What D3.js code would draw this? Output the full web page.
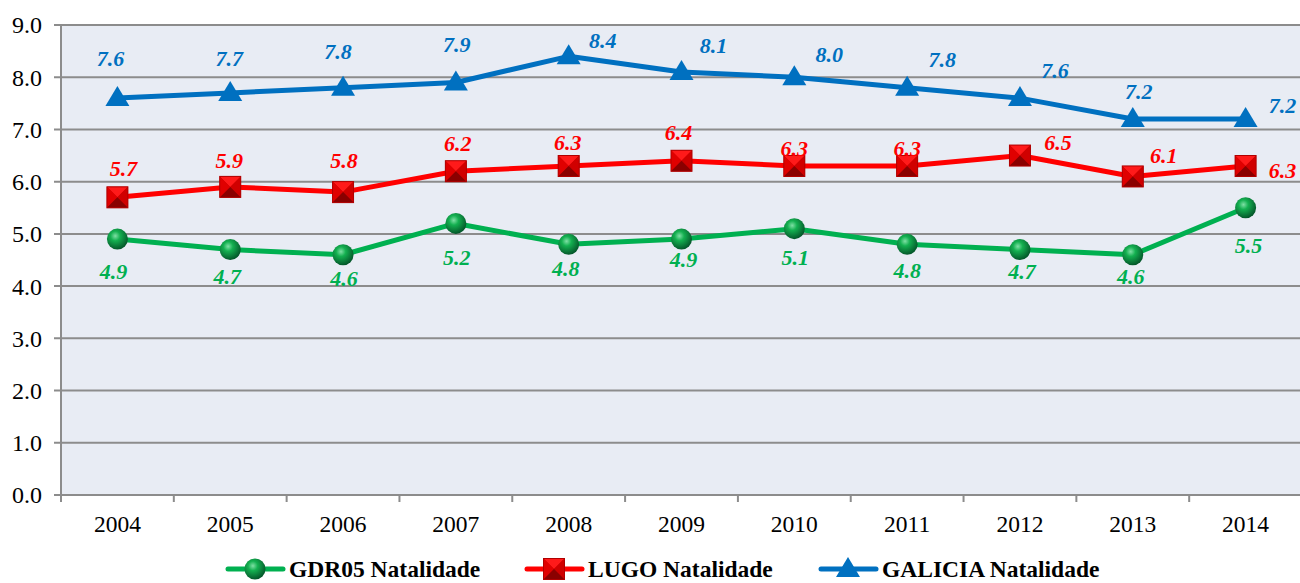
<!DOCTYPE html>
<html>
<head>
<meta charset="utf-8">
<script src="https://cdn.jsdelivr.net/npm/d3@7"></script>
<style>
  body { margin: 0; background: #fff; }
  svg { display: block; }
</style>
</head>
<body>
<svg id="chart" width="1300" height="583"></svg>
<script>
const years = ["2004", "2005", "2006", "2007", "2008", "2009", "2010", "2011", "2012", "2013", "2014"];
const gdr05 = [4.9, 4.7, 4.6, 5.2, 4.8, 4.9, 5.1, 4.8, 4.7, 4.6, 5.5];
const lugo = [5.7, 5.9, 5.8, 6.2, 6.3, 6.4, 6.3, 6.3, 6.5, 6.1, 6.3];
const galicia = [7.6, 7.7, 7.8, 7.9, 8.4, 8.1, 8.0, 7.8, 7.6, 7.2, 7.2];
const yTicks = [0, 1, 2, 3, 4, 5, 6, 7, 8, 9];

// label nudges (px) so value labels don't sit on the lines
const galiciaDx = [-7, -1, -5, 1, 34, 32, 35, 35, 35, 6, 37];
const galiciaDy = [-40, -35, -36, -38, -16, -27, -23, -28, -28, -28, -14];
const lugoDx = [6, -1, 1, 2, -1, -3, 0, 0, 38, 31, 37];
const lugoDy = [-29, -27, -32, -28, -24, -28, -18, -18, -13, -21, 4];
const gdr05Dx = [-4, -3, 1, 1, -3, 2, 1, 0, 2, -2, 3];
const gdr05Dy = [32, 27, 24, 34, 24, 20, 29, 26, 22, 22, 38];

const width = 1300;
const height = 583;
const margin = { top: 25, right: 0, bottom: 88, left: 61 };
const serif = "'Liberation Serif', 'Times New Roman', Times, serif";

const svg = d3.select("#chart");

const x = d3.scaleBand()
    .domain(years)
    .range([margin.left, 1302]);

const y = d3.scaleLinear()
    .domain([0, 9])
    .range([height - margin.bottom, margin.top]);

const cx = d => x(d) + x.bandwidth() / 2;

// plot background
svg.append("rect")
    .attr("x", margin.left)
    .attr("y", margin.top)
    .attr("width", width - margin.left)
    .attr("height", y(0) - margin.top)
    .attr("fill", "#e8ecf4");

// gridlines + y ticks
svg.append("g")
    .selectAll("line")
    .data(yTicks)
    .join("line")
    .attr("x1", margin.left - 7)
    .attr("x2", width)
    .attr("y1", d => y(d))
    .attr("y2", d => y(d))
    .attr("stroke", "#8c8c8c")
    .attr("stroke-width", 2);

svg.append("g")
    .selectAll("text")
    .data(yTicks)
    .join("text")
    .attr("x", 42)
    .attr("y", d => y(d))
    .attr("dy", "0.35em")
    .attr("text-anchor", "end")
    .style("font-family", serif)
    .attr("font-size", "24px")
    .attr("fill", "#000")
    .text(d => d.toFixed(1));

// y axis line
svg.append("line")
    .attr("x1", margin.left).attr("x2", margin.left)
    .attr("y1", margin.top).attr("y2", y(0) + 7)
    .attr("stroke", "#8c8c8c")
    .attr("stroke-width", 2);

// x ticks at band boundaries
svg.append("g")
    .selectAll("line")
    .data(years.slice(1))
    .join("line")
    .attr("x1", d => x(d)).attr("x2", d => x(d))
    .attr("y1", y(0)).attr("y2", y(0) + 7)
    .attr("stroke", "#8c8c8c")
    .attr("stroke-width", 2);

svg.append("g")
    .selectAll("text")
    .data(years)
    .join("text")
    .attr("x", d => cx(d))
    .attr("y", y(0) + 29)
    .attr("dy", "0.35em")
    .attr("text-anchor", "middle")
    .style("font-family", serif)
    .attr("font-size", "23.5px")
    .attr("fill", "#000")
    .text(d => d);

// gradients for markers
const defs = svg.append("defs");
const ball = defs.append("radialGradient")
    .attr("id", "ball")
    .attr("cx", "40%").attr("cy", "35%").attr("r", "65%");
ball.append("stop").attr("offset", "0%").attr("stop-color", "#7fe0a5");
ball.append("stop").attr("offset", "35%").attr("stop-color", "#14b050");
ball.append("stop").attr("offset", "100%").attr("stop-color", "#04572a");

const line = d3.line()
    .x((d, i) => cx(years[i]))
    .y(d => y(d));

const series = [
    { name: "GDR05 Natalidade", values: gdr05, color: "#00b050", marker: "circle" },
    { name: "LUGO Natalidade", values: lugo, color: "#ff0000", marker: "square" },
    { name: "GALICIA Natalidade", values: galicia, color: "#0070c0", marker: "triangle" }
];

function drawMarker(g, type) {
    if (type === "circle") {
        g.append("circle").attr("r", 10.5).attr("fill", "url(#ball)");
    } else if (type === "square") {
        const s = 10.5;
        g.append("rect").attr("x", -s).attr("y", -s).attr("width", 2 * s).attr("height", 2 * s)
            .attr("fill", "#c00000");
        g.append("path").attr("d", `M${-s},${-s}L${s},${-s}L0,0Z`).attr("fill", "#ff1a1a");
        g.append("path").attr("d", `M${-s},${-s}L${-s},${s}L0,0Z`).attr("fill", "#e00000");
        g.append("path").attr("d", `M${s},${-s}L${s},${s}L0,0Z`).attr("fill", "#d00000");
        g.append("path").attr("d", `M${-s},${s}L${s},${s}L0,0Z`).attr("fill", "#8a0000");
        g.append("rect").attr("x", -s).attr("y", -s).attr("width", 2 * s).attr("height", 2 * s)
            .attr("fill", "none").attr("stroke", "#b00000").attr("stroke-width", 1);
    } else {
        g.append("path").attr("d", "M0,-12L12,8L-12,8Z").attr("fill", "#0070c0");
    }
}

series.forEach(s => {
    svg.append("path")
        .datum(s.values)
        .attr("d", line)
        .attr("fill", "none")
        .attr("stroke", s.color)
        .attr("stroke-width", 5)
        .attr("stroke-linejoin", "round");

    svg.append("g")
        .selectAll("g")
        .data(s.values)
        .join("g")
        .attr("transform", (d, i) => `translate(${cx(years[i])},${y(d)})`)
        .each(function() { drawMarker(d3.select(this), s.marker); });
});

// value labels
function labels(values, color, dx, dy) {
    svg.append("g")
        .selectAll("text")
        .data(values)
        .join("text")
        .attr("x", (d, i) => cx(years[i]) + dx[i])
        .attr("y", (d, i) => y(d) + dy[i])
        .attr("dy", "0.35em")
        .attr("text-anchor", "middle")
        .style("font-family", serif)
        .attr("font-size", "22px")
        .attr("font-weight", "bold")
        .attr("font-style", "italic")
        .attr("fill", color)
        .text(d => d.toFixed(1));
}
labels(gdr05, "#00b050", gdr05Dx, gdr05Dy);
labels(lugo, "#ff0000", lugoDx, lugoDy);
labels(galicia, "#0070c0", galiciaDx, galiciaDy);

// legend
const legendX = [228, 527, 821];
const legend = svg.append("g")
    .selectAll("g")
    .data(series)
    .join("g")
    .attr("transform", (d, i) => `translate(${legendX[i]},569)`);

legend.append("line")
    .attr("x1", 0).attr("x2", 55)
    .attr("stroke", d => d.color)
    .attr("stroke-width", 5)
    .attr("stroke-linecap", "round");

legend.append("g")
    .attr("transform", "translate(27,0)")
    .each(function(d) { drawMarker(d3.select(this), d.marker); });

legend.append("text")
    .attr("x", 61)
    .attr("dy", "0.35em")
    .style("font-family", serif)
    .attr("font-size", "23.5px")
    .attr("font-weight", "bold")
    .attr("fill", "#000")
    .text(d => d.name);
</script>
</body>
</html>
